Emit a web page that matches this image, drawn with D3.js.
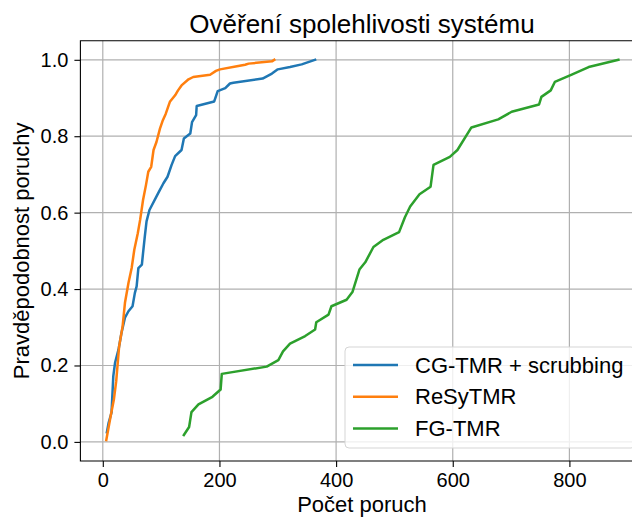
<!DOCTYPE html>
<html>
<head>
    <meta charset="utf-8">
    <style>
        body {
            margin: 0;
            background: white;
        }

        svg {
            font-family: 'Liberation Sans', Arial, sans-serif;
        }

        .grid line {
            stroke: #b0b0b0;
            stroke-width: 1.2;
        }

        .axis .domain {
            display: none;
        }

        .axis .tick line {
            stroke: black;
            stroke-width: 1.1;
        }

        .axis .tick text {
            font-size: 20px;
            fill: black;
        }

        .spine {
            stroke: black;
            stroke-width: 1.1;
            fill: none;
        }

        .curve {
            fill: none;
            stroke-width: 2.5;
            stroke-linejoin: round;
            stroke-linecap: square;
        }
    </style>
</head>
<body>
    <svg width="632" height="517"></svg>

<script src="https://d3js.org/d3.v7.min.js"></script>
<script>
    // CG-TMR + scrubbing
    let cgX = [7, 10, 15, 18, 21, 27, 32, 38, 44, 51, 55, 58, 61, 67, 69, 72, 75, 80, 95, 104,
        111, 118, 124, 135, 139, 150, 153, 160, 161, 191, 197, 210, 218, 224, 274, 290, 300, 321, 341, 364];
    let cgY = [0.025, 0.05, 0.077, 0.172, 0.207, 0.242, 0.285, 0.325, 0.342, 0.355, 0.39, 0.407, 0.455, 0.464, 0.494, 0.537, 0.577, 0.607, 0.651, 0.677,
        0.694, 0.725, 0.748, 0.764, 0.794, 0.807, 0.837, 0.855, 0.879, 0.891, 0.918, 0.926, 0.938, 0.94, 0.951, 0.964, 0.975, 0.981, 0.988, 1.0];

    // ReSyTMR
    let resyX = [6, 13.5, 19, 23, 28, 34, 38, 44, 49.5, 54, 60, 64, 69, 74, 78, 83, 87, 92, 98, 103,
        108, 112, 115, 124, 129, 135, 147, 155, 184, 194, 201, 230, 244, 250, 290, 294];
    let resyY = [0.005, 0.068, 0.111, 0.159, 0.25, 0.303, 0.364, 0.416, 0.455, 0.503, 0.546, 0.581, 0.633, 0.672, 0.707, 0.72, 0.764, 0.785, 0.82, 0.842,
        0.859, 0.877, 0.89, 0.907, 0.92, 0.933, 0.949, 0.955, 0.961, 0.971, 0.975, 0.983, 0.987, 0.99, 0.996, 1.0];

    // FG-TMR
    let fgX = [139, 148, 152, 164, 188, 202, 204, 281, 301, 309, 321, 347, 364, 366, 387, 392, 418, 428, 440, 450,
        464, 481, 508, 518, 527, 543, 562, 567, 595, 608, 632, 678, 701, 748, 752, 768, 775, 804, 833, 884];
    let fgY = [0.018, 0.039, 0.078, 0.098, 0.118, 0.137, 0.178, 0.197, 0.214, 0.237, 0.257, 0.277, 0.294, 0.313, 0.333, 0.355, 0.372, 0.392, 0.451, 0.47,
        0.51, 0.529, 0.549, 0.588, 0.616, 0.648, 0.668, 0.725, 0.746, 0.764, 0.823, 0.844, 0.864, 0.883, 0.903, 0.92, 0.942, 0.961, 0.981, 1.0];

    let seriesNames = ["CG-TMR + scrubbing", "ReSyTMR", "FG-TMR"];
    let seriesColors = ["#1f77b4", "#ff7f0e", "#2ca02c"];
    let xTicks = [0, 200, 400, 600, 800];
    let yTicks = [0.0, 0.2, 0.4, 0.6, 0.8, 1.0];

    let title = "Ověření spolehlivosti systému";
    let xTitle = "Počet poruch";
    let yTitle = "Pravděpodobnost poruchy";

    let svg = d3.select("svg");

    // plot area; right edge falls outside the picture, as in the original
    let margin = { top: 40.7, left: 80.4, bottom: 461, right: 644 };

    let xScale = d3.scaleLinear()
        .domain([-38.4, 927.9])
        .range([margin.left, margin.right]);

    let yScale = d3.scaleLinear()
        .domain([-0.05, 1.05])
        .range([margin.bottom, margin.top]);

    // grid
    let grid = svg.append("g").attr("class", "grid");
    grid.selectAll(".gx")
        .data(xTicks)
        .enter().append("line")
        .attr("x1", d => xScale(d)).attr("x2", d => xScale(d))
        .attr("y1", margin.top).attr("y2", margin.bottom);
    grid.selectAll(".gy")
        .data(yTicks)
        .enter().append("line")
        .attr("y1", d => yScale(d)).attr("y2", d => yScale(d))
        .attr("x1", margin.left).attr("x2", margin.right);

    // curves
    let series = [
        cgX.map((x, i) => [x, cgY[i]]),
        resyX.map((x, i) => [x, resyY[i]]),
        fgX.map((x, i) => [x, fgY[i]])
    ];

    let line = d3.line()
        .x(d => xScale(d[0]))
        .y(d => yScale(d[1]));

    svg.selectAll(".curve")
        .data(series)
        .enter().append("path")
        .attr("class", "curve")
        .attr("d", line)
        .style("stroke", (d, i) => seriesColors[i]);

    // axes
    let xAxisSettings = d3.axisBottom(xScale)
        .tickValues(xTicks)
        .tickSize(6)
        .tickPadding(6)
        .tickFormat(d3.format("d"));

    let yAxisSettings = d3.axisLeft(yScale)
        .tickValues(yTicks)
        .tickSize(6)
        .tickPadding(6)
        .tickFormat(d3.format(".1f"));

    svg.append("g")
        .attr("class", "x axis")
        .attr("transform", `translate(0,${margin.bottom})`)
        .call(xAxisSettings);

    svg.append("g")
        .attr("class", "y axis")
        .attr("transform", `translate(${margin.left},0)`)
        .call(yAxisSettings);

    // spines
    svg.append("path")
        .attr("class", "spine")
        .attr("d", `M${margin.right},${margin.top}H${margin.left}V${margin.bottom}H${margin.right}`);

    // titles
    svg.append("text")
        .attr("x", 362)
        .attr("y", 33)
        .attr("text-anchor", "middle")
        .style("font-size", "26px")
        .text(title);

    svg.append("text")
        .attr("x", 362)
        .attr("y", 512)
        .attr("text-anchor", "middle")
        .style("font-size", "22px")
        .text(xTitle);

    svg.append("text")
        .attr("transform", `translate(29,${yScale(0.5)}) rotate(-90)`)
        .attr("text-anchor", "middle")
        .style("font-size", "22px")
        .text(yTitle);

    // legend
    let legend = svg.append("g").attr("class", "legend");
    legend.append("rect")
        .attr("x", 345)
        .attr("y", 347)
        .attr("width", 290)
        .attr("height", 101)
        .attr("rx", 4)
        .style("fill", "white")
        .style("fill-opacity", 0.8)
        .style("stroke", "#d5d5d5")
        .style("stroke-width", 1);

    let rows = legend.selectAll(".row")
        .data(seriesNames)
        .enter().append("g")
        .attr("transform", (d, i) => `translate(0,${365 + i * 31.7})`);

    rows.append("line")
        .attr("x1", 353).attr("x2", 398)
        .attr("y1", 0).attr("y2", 0)
        .style("stroke", (d, i) => seriesColors[i])
        .style("stroke-width", 2.5);

    rows.append("text")
        .attr("x", 415)
        .attr("y", 0)
        .attr("dy", "0.35em")
        .style("font-size", "22px")
        .text(d => d);
</script>
</body>
</html>
